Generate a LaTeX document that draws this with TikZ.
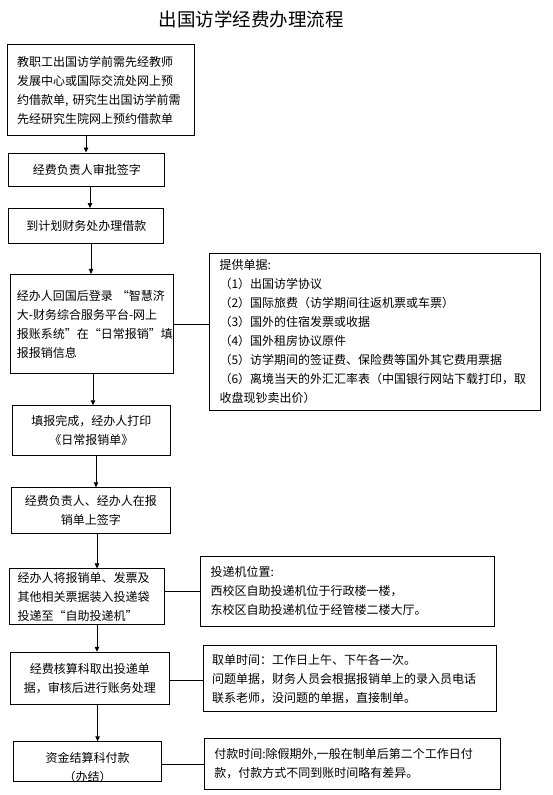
\documentclass[tikz,border=0pt]{standalone}
\usepackage{fontspec}
\setmainfont{Noto Sans CJK SC}
\usetikzlibrary{arrows.meta}
\begin{document}
\begin{tikzpicture}[x=1pt,y=-1pt,
  box/.style={draw, line width=0.9pt, inner sep=0pt, font=\fontsize{12}{19}\selectfont},
  ctr/.style={box, align=center},
  lft/.style={box, align=left},
  txt/.style={inner sep=0pt, align=center, font=\fontsize{12}{19}\selectfont},
  arr/.style={line width=0.9pt, -{Triangle[length=5pt,width=4.5pt]}},
  con/.style={line width=0.9pt}]
\fill[white] (0,0) rectangle (552,795);
\useasboundingbox (0,0) rectangle (552,795);

\node[inner sep=0pt, font=\fontsize{18.5}{20}\selectfont] (title) at (251,19) {出国访学经费办理流程};

\node[lft, text width=168pt, minimum width=186.8pt, minimum height=90.6pt] (b1) at (101.2,90)
  {教职工出国访学前需先经教师\\发展中心或国际交流处网上预\\约借款单, 研究生出国访学前需\\先经研究生院网上预约借款单};
\node[ctr, minimum width=156pt, minimum height=33pt] (b2) at (86.75,169.45) {经费负责人审批签字};
\node[ctr, minimum width=155pt, minimum height=35pt] (b3) at (86.25,226) {到计划财务处办理借款};
\node[lft, text width=150pt, minimum width=162.7pt, minimum height=99.3pt] (b4) at (91.85,324)
  {\mbox{经办人回国后登录 “智慧济}\\大-财务综合服务平台-网上\\报账系统”在“日常报销”填\\报报销信息};
\node[lft, text width=310.5pt, minimum width=330.5pt, minimum height=157.5pt] (bp) at (374.75,332)
  {提供单据:\\（1）出国访学协议\\（2）国际旅费（访学期间往返机票或车票）\\（3）国外的住宿发票或收据\\（4）国外租房协议原件\\（5）访学期间的签证费、保险费等国外其它费用票据\\（6）离境当天的外汇汇率表（中国银行网站下载打印，取\\收盘现钞卖出价）};
\node[ctr, minimum width=157.1pt, minimum height=49.3pt] (b5) at (91.45,430.35) {填报完成，经办人打印\\《日常报销单》};
\node[ctr, minimum width=158.5pt, minimum height=45.6pt] (b6) at (90.75,510.6) {经费负责人、经办人在报\\销单上签字};
\node[lft, text width=139pt, minimum width=155.4pt, minimum height=55.4pt] (b7) at (87.1,596.6)
  {经办人将报销单、发票及\\其他相关票据装入投递袋\\投递至“自助投递机”};
\node[lft, text width=274pt, minimum width=293.8pt, minimum height=69.6pt] (b8) at (347.5,591.2)
  {投递机位置:\\西校区自助投递机位于行政楼一楼，\\东校区自助投递机位于经管楼二楼大厅。};
\node[ctr, minimum width=158.5pt, minimum height=52.3pt] (b9) at (89.75,678.35) {经费核算科取出投递单\\据，审核后进行账务处理};
\node[lft, text width=275pt, minimum width=293.2pt, minimum height=65.5pt] (b10) at (349.6,678.65)
  {取单时间：工作日上午、下午各一次。\\问题单据，财务人员会根据报销单上的录入员电话\\联系老师，没问题的单据，直接制单。};
\node[box, minimum width=147.4pt, minimum height=39.4pt] (b11) at (87.6,761.4) {};
\node[txt] (b11t) at ([yshift=-5.6pt]b11.center) {资金结算科付款\\（办结）};
\node[lft, text width=277pt, minimum width=296pt, minimum height=51.5pt] (b12) at (352.8,764.05)
  {付款时间:除假期外,一般在制单后第二个工作日付\\款，付款方式不同到账时间略有差异。};

\coordinate (x1) at (86,0);
\coordinate (x2) at (90,0);
\coordinate (x3) at (91,0);
\coordinate (x4) at (93,0);
\coordinate (x5) at (96,0);
\coordinate (x6) at (97,0);
\coordinate (x7) at (97,0);
\coordinate (x8) at (97.6,0);

\draw[arr] (b1.south -| x1) -- (b2.north -| x1);
\draw[arr] (b2.south -| x2) -- (b3.north -| x2);
\draw[arr] (b3.south -| x3) -- (b4.north -| x3);
\draw[arr] (b4.south -| x4) -- (b5.north -| x4);
\draw[arr] (b5.south -| x5) -- (b6.north -| x5);
\draw[arr] (b6.south -| x6) -- (b7.north -| x6);
\draw[arr] (b7.south -| x7) -- (b9.north -| x7);
\draw[arr] (b9.south -| x8) -- (b11.north -| x8);

\coordinate (y1) at (0,324.9);
\draw[con] (b4.east |- y1) -- (bp.west |- y1);
\draw[con] (b7.east |- b8.west) -- (b8.west);
\coordinate (y3) at (0,680);
\draw[con] (b9.east |- y3) -- (b10.west |- y3);
\draw[con] (b11.east |- b12.west) -- (b12.west);
\end{tikzpicture}
\end{document}
